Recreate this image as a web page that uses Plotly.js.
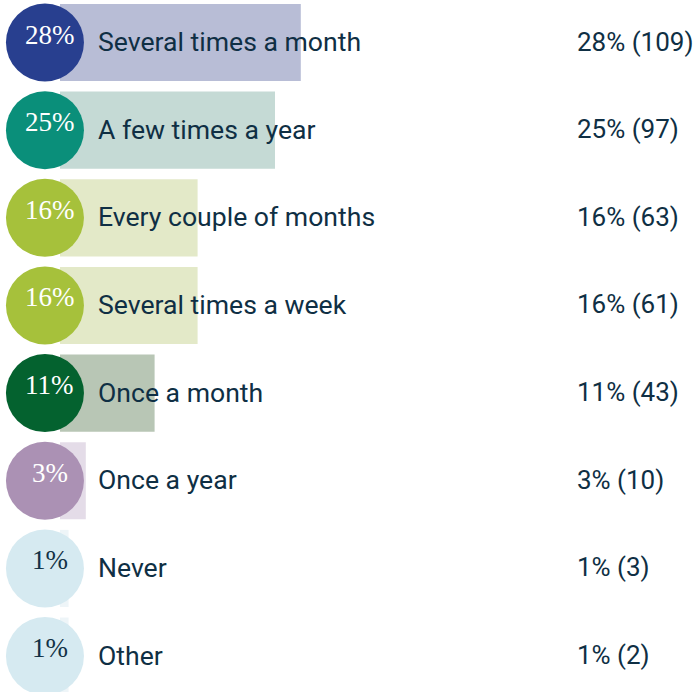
<!DOCTYPE html>
<html>
<head>
<meta charset="utf-8">
<script src="https://cdn.plot.ly/plotly-3.0.1.min.js"></script>
<style>
  html, body { margin: 0; padding: 0; background: #fff; }
  #chart { width: 694px; height: 692px; }
</style>
</head>
<body>
<div id="chart"></div>
<script>
const categories = [
  "Several times a month",
  "A few times a year",
  "Every couple of months",
  "Several times a week",
  "Once a month",
  "Once a year",
  "Never",
  "Other"
];
const percents = [28, 25, 16, 16, 11, 3, 1, 1];
const counts = [109, 97, 63, 61, 43, 10, 3, 2];

const circleColors = ["#283f8f", "#0a8f7a", "#a6c13b", "#a6c13b", "#04622f", "#ab91b4", "#d6eaf1", "#d6eaf1"];
const barColors = ["#b8bdd6", "#c5dad5", "#e3e9c8", "#e3e9c8", "#b8c6b5", "#e4dce8", "#eef5f8", "#eef5f8"];
const circleTextColors = ["#fff", "#fff", "#fff", "#fff", "#fff", "#fff", "#123246", "#123246"];

const textColor = "#0f2f44";
const CIRCLE_X = -1.75; // just left of the bar base, in axis units

const bars = {
  type: "bar",
  orientation: "h",
  y: categories,
  x: percents,
  base: 0,
  marker: { color: barColors, line: { width: 0 } },
  hoverinfo: "skip"
};

const circles = {
  type: "scatter",
  mode: "markers",
  y: categories,
  x: categories.map(() => CIRCLE_X),
  marker: { size: 78, color: circleColors, line: { width: 0 } },
  hoverinfo: "skip",
  cliponaxis: false
};

const annotations = [];
categories.forEach((cat, i) => {
  // percent inside the circle
  annotations.push({
    x: CIRCLE_X, y: cat, xref: "x", yref: "y",
    text: percents[i] + "%",
    showarrow: false, xshift: 5, yshift: 8,
    font: { family: "Liberation Serif, serif", size: 27, color: circleTextColors[i] }
  });
  // category label
  annotations.push({
    x: 96 / 694, y: cat, xref: "paper", yref: "y",
    xanchor: "left", text: cat, showarrow: false, yshift: 1,
    font: { family: "Roboto, sans-serif", size: 26.6, color: textColor }
  });
  // value label
  annotations.push({
    x: 575 / 694, y: cat, xref: "paper", yref: "y",
    xanchor: "left", text: percents[i] + "% (" + counts[i] + ")", showarrow: false, yshift: 1,
    font: { family: "Roboto, sans-serif", size: 26, color: textColor }
  });
});

const layout = {
  width: 694,
  height: 692,
  margin: { t: 0, l: 0, r: 0, b: 0 },
  paper_bgcolor: "#fff",
  plot_bgcolor: "#fff",
  showlegend: false,
  bargap: 0.12,
  xaxis: {
    range: [-60 / 8.6, 634 / 8.6],
    visible: false,
    fixedrange: true
  },
  yaxis: {
    type: "category",
    categoryorder: "array",
    categoryarray: categories,
    range: [7.41, -0.485],
    visible: false,
    fixedrange: true
  },
  annotations: annotations
};

Plotly.newPlot("chart", [bars, circles], layout, {
  responsive: false,
  displayModeBar: false
});
</script>
</body>
</html>
